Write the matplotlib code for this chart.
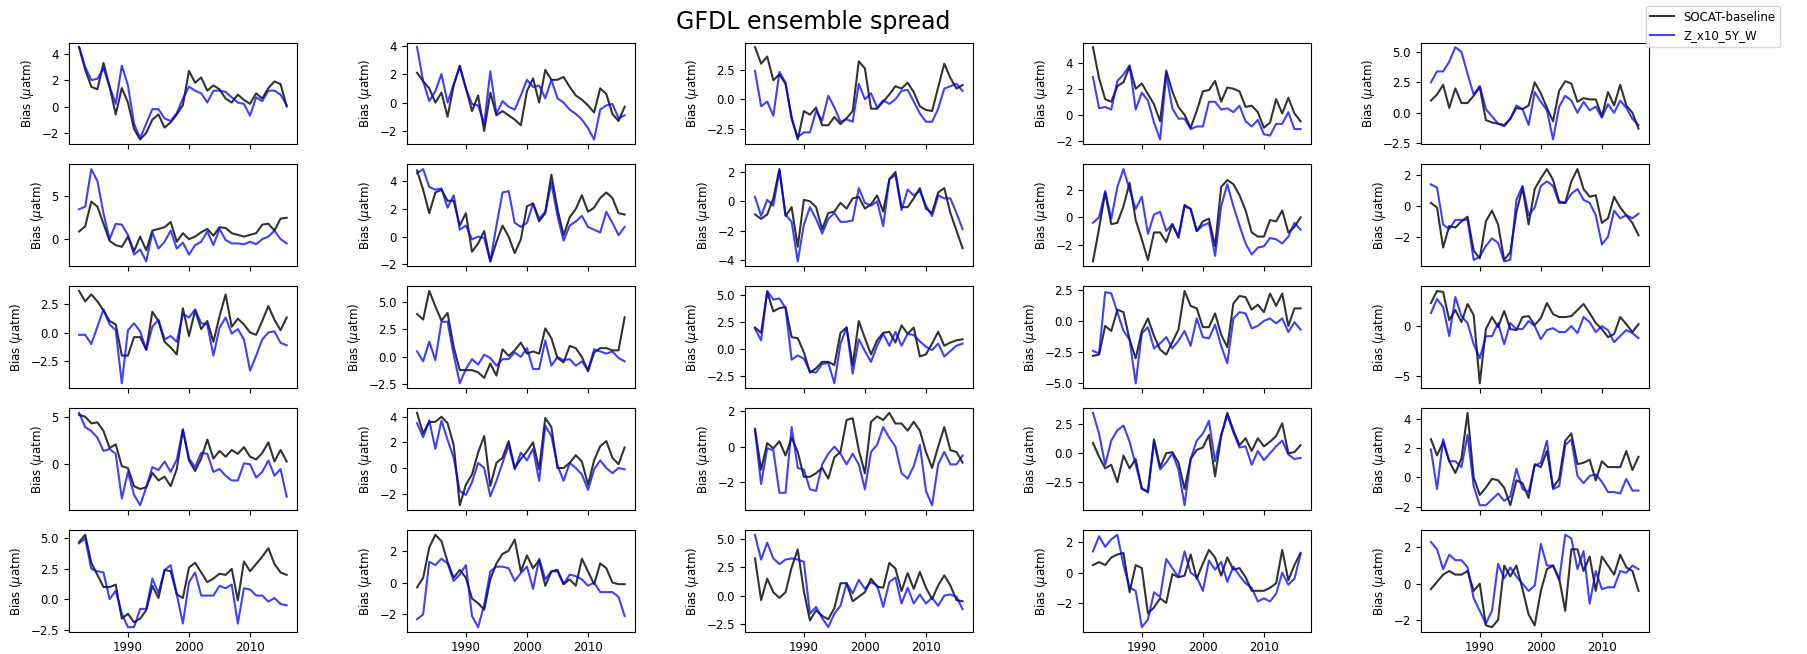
import numpy as np
import matplotlib
matplotlib.use("Agg")
import matplotlib.pyplot as plt

years = list(range(1982, 2017))
title = "GFDL ensemble spread"
label_a = "SOCAT-baseline"
label_b = "Z_x10_5Y_W"
ylabel = r"Bias ($\mu$atm)"
xticks = [1990, 2000, 2010]

s01 = [4.5,2.8,1.5,1.3,3.3,1.5,-0.6,1.4,0.3,-1.7,-2.5,-2.0,-1.0,-0.6,-1.6,-1.2,-0.6,0.1,2.7,1.8,2.2,1.2,1.6,1.3,0.6,0.3,0.9,0.5,0.2,1.0,0.6,1.4,1.9,1.7,0.0]
z01 = [4.5,3.0,2.0,2.1,2.9,1.5,0.2,3.1,1.6,-1.3,-2.4,-1.3,-0.2,-0.2,-0.9,-1.1,-0.5,0.6,1.5,1.2,1.0,0.3,1.2,1.2,1.1,0.7,0.3,0.2,-0.7,0.7,0.4,1.2,1.2,0.9,0.1]
s02 = [2.1,1.5,1.0,0.0,0.7,-1.0,1.2,2.6,1.0,-0.6,0.5,-2.0,0.7,-0.9,-0.6,-0.9,-1.2,-1.6,0.8,1.7,0.0,2.3,1.6,1.6,1.8,1.1,0.5,0.2,-0.2,-0.7,1.0,0.6,-0.8,-1.3,-0.3]
z02 = [3.9,1.5,0.1,0.8,2.0,0.0,1.3,2.5,1.0,-0.1,-0.2,-1.5,2.2,-0.8,0.1,-0.3,-0.5,0.5,1.6,1.1,1.2,0.3,1.6,0.3,0.0,-0.5,-0.8,-1.2,-1.8,-2.6,-0.5,-0.2,-0.1,-1.1,-0.9]
s03 = [4.4,3.0,3.6,1.6,2.1,1.3,-1.5,-3.4,-1.0,-1.3,-0.7,-2.2,-2.2,-1.5,-2.1,-1.6,-1.0,3.2,2.6,-0.8,-0.8,-0.2,0.4,1.1,0.9,1.4,0.6,-0.6,-0.9,-1.0,1.0,3.0,1.8,0.9,1.2]
z03 = [2.4,-0.6,-0.2,-1.4,2.3,1.4,-1.7,-3.2,-2.8,-2.8,-1.0,-1.8,0.3,-0.7,-1.9,-1.7,-1.9,1.3,0.0,0.5,-0.7,-0.1,-0.4,0.0,0.7,0.8,-0.2,-1.2,-1.9,-1.9,-0.8,0.9,1.1,1.3,0.7]
s04 = [5.2,2.8,1.2,1.0,2.2,2.5,3.7,2.0,2.4,1.6,0.8,-0.5,3.4,1.8,0.6,0.0,-1.0,0.3,1.8,1.9,2.6,1.0,2.1,2.0,1.8,0.6,0.7,0.2,-1.0,-0.6,1.2,0.1,1.3,0.1,-0.5]
z04 = [2.9,0.5,0.6,0.4,2.6,3.1,3.8,0.4,1.7,1.1,-0.6,-1.9,3.1,0.5,-0.3,-0.3,-1.1,-0.9,-0.9,1.0,1.0,0.4,0.5,0.2,0.7,-0.5,-0.9,-0.4,-1.5,-1.6,-0.7,-0.7,0.2,-1.1,-1.1]
s05 = [1.0,1.5,2.3,0.4,2.0,0.8,0.8,1.4,2.1,-0.6,-0.8,-0.9,-1.1,-0.5,0.4,0.3,0.6,2.5,1.6,0.4,-0.7,1.8,2.6,2.4,0.9,1.2,1.1,1.1,-0.3,1.7,0.6,2.3,0.6,0.0,-1.3]
z05 = [2.5,3.4,3.4,4.2,5.4,5.0,3.2,1.5,2.2,0.3,-0.3,-0.9,-1.0,-0.5,0.6,0.3,-1.0,1.7,0.9,0.2,-2.2,0.5,1.4,1.0,0.0,0.9,0.2,0.5,-0.4,0.7,0.0,1.0,0.4,-0.5,-1.0]

s06 = [0.9,1.5,4.4,3.8,1.8,-0.2,-0.7,-0.9,0.3,-1.4,0.3,-1.3,1.0,1.2,1.4,2.0,-0.3,0.7,0.0,0.3,0.8,1.2,0.4,1.4,1.3,0.7,0.5,0.3,0.5,0.7,1.7,1.8,1.0,2.4,2.5]
z06 = [3.5,3.8,8.2,6.8,3.0,0.0,1.8,1.7,0.5,-1.8,-1.2,-2.6,0.8,-1.1,-0.3,1.0,-1.1,-0.4,-1.8,-0.7,-0.3,0.9,-0.7,1.2,-0.1,-0.5,-0.5,-0.6,-0.3,-0.6,0.0,0.3,1.0,0.0,-0.5]
s07 = [4.8,3.4,1.7,3.2,3.4,2.6,2.6,0.8,1.7,-1.1,-0.5,0.4,-1.8,-0.4,0.8,0.0,-1.2,-0.2,2.2,2.4,1.1,1.7,4.5,2.0,0.1,1.4,2.0,3.0,1.8,2.1,2.8,3.2,2.8,1.7,1.6]
z07 = [4.6,4.9,3.6,3.4,3.5,2.1,3.0,0.5,0.8,-0.2,0.0,-0.1,-1.8,0.8,3.2,3.3,1.0,0.7,1.0,2.4,1.3,1.8,3.9,1.5,-0.3,0.8,1.1,1.5,0.7,0.5,0.3,1.8,1.0,0.1,0.7]
s08 = [-0.9,-1.2,-0.9,0.2,2.2,-1.0,-0.4,-3.1,0.1,0.0,-0.4,-1.9,-0.8,-0.7,-0.1,-0.5,0.2,0.3,-0.5,-0.2,0.4,-0.7,1.5,2.0,-0.4,-0.4,0.2,0.9,-0.5,-0.8,0.6,0.9,-0.8,-2.0,-3.2]
z08 = [0.3,-1.0,0.1,-0.3,2.1,-0.9,-1.4,-4.1,-1.6,-0.4,-1.2,-2.2,-1.2,-0.8,-1.4,-1.4,-1.3,0.9,-0.1,-0.3,0.0,-1.7,1.5,1.8,-0.6,0.8,0.4,0.7,-0.3,-1.0,0.4,0.2,0.2,-0.8,-1.9]
s09 = [-3.2,-0.8,1.8,-0.5,-0.4,0.8,2.5,-0.2,-1.6,-3.1,-1.1,-1.1,-1.8,-0.5,-1.4,0.9,0.6,-1.0,-0.3,-0.1,-2.1,2.2,2.7,2.4,1.6,0.5,-1.1,-1.4,-1.4,-0.2,-0.3,0.5,-1.1,-0.7,0.0]
z09 = [-0.4,0.0,1.9,-0.1,2.2,3.5,2.0,0.6,1.5,-1.2,0.2,0.4,-1.0,-0.5,-1.5,0.8,0.6,-1.0,-0.6,-0.4,-2.8,0.8,2.4,0.8,-0.6,-1.9,-2.7,-2.2,-2.1,-1.5,-1.6,-1.9,-1.4,-0.4,-0.9]
s10 = [0.2,-0.1,-2.7,-1.3,-1.4,-1.0,-0.7,-2.9,-3.4,-1.0,-0.3,-1.2,-3.5,-3.0,-0.4,1.2,-1.2,1.1,1.8,2.4,1.7,0.3,0.2,1.6,2.4,1.1,0.6,0.7,-1.1,-0.8,0.6,-0.1,-0.6,-1.1,-1.9]
z10 = [1.4,1.2,-1.2,-1.5,-0.9,-0.9,-0.9,-3.5,-3.3,-2.6,-2.1,-2.4,-3.6,-3.5,0.4,1.3,-0.6,-0.1,1.3,1.6,1.3,0.2,0.2,0.8,1.1,0.4,0.2,-0.6,-2.5,-2.0,-0.3,-0.8,-0.6,-0.8,-0.5]

s11 = [3.6,2.7,3.3,2.7,1.9,1.0,0.7,-2.0,-2.0,-0.4,-0.4,-1.5,1.8,1.0,-0.8,-1.3,-1.9,2.1,-0.3,1.9,0.3,1.0,-0.8,1.4,3.3,0.5,1.2,0.7,0.0,-0.2,1.0,2.3,1.1,0.2,1.3]
z11 = [-0.2,-0.2,-1.0,0.5,2.0,0.7,0.2,-4.4,0.2,0.8,0.1,-1.5,0.5,1.1,-0.6,-0.3,-0.8,1.6,1.3,2.0,0.8,0.7,-2.0,0.4,1.3,-0.1,0.3,-0.6,-3.3,-2.0,-0.6,0.0,0.1,-0.9,-1.1]
s12 = [3.9,3.4,6.0,4.6,3.3,4.0,0.9,-1.2,-1.2,-1.2,-1.4,-1.9,-0.6,-1.7,0.7,0.1,0.6,1.3,0.3,0.5,0.3,2.6,1.7,-0.1,-0.5,1.0,0.8,0.0,-1.3,0.4,0.8,0.8,0.6,0.6,3.6]
z12 = [0.5,-0.4,1.4,-0.3,3.2,3.2,0.2,-2.4,-1.1,-0.2,-0.7,0.2,-0.1,-0.8,-0.2,-0.2,0.4,0.0,0.8,-1.1,-1.1,1.5,-0.8,0.0,-0.3,-0.2,-0.8,-0.4,-1.2,0.7,0.5,0.3,0.5,-0.1,-0.4]
s13 = [2.0,1.5,5.3,3.5,3.8,3.9,1.1,1.0,-0.3,-2.2,-1.8,-1.2,-1.2,-1.5,1.5,2.0,-1.5,2.6,1.0,-0.5,0.8,1.5,1.6,0.6,2.2,1.4,2.0,-0.7,-0.5,0.5,1.6,0.3,0.6,0.8,0.9]
z13 = [1.9,0.8,5.4,4.6,4.7,3.8,-1.0,-0.6,-0.9,-2.1,-2.2,-1.4,-1.3,-3.2,0.5,2.0,-2.3,0.9,-0.2,-1.2,0.3,1.4,0.3,1.6,0.3,1.4,1.3,0.7,0.2,-0.1,0.5,-0.7,-0.2,0.3,0.5]
s14 = [-2.8,-2.7,-0.4,-0.8,0.9,0.7,-1.5,-3.0,-0.8,0.2,-1.2,-2.3,-2.7,-1.7,-0.7,2.4,1.2,1.0,-0.5,-0.5,0.6,-1.1,-2.1,1.4,2.0,1.9,0.9,1.3,0.7,2.2,1.2,2.2,-0.4,1.0,1.0]
z14 = [-2.4,-2.6,2.3,2.2,0.7,-0.8,-1.5,-5.0,-1.0,-0.5,-2.2,-1.8,-1.3,-2.2,-1.6,-0.8,-2.0,0.2,-1.3,-1.4,-0.3,-2.0,-3.4,0.2,0.7,0.6,-0.6,-0.4,0.0,0.2,-0.2,0.2,-0.9,-0.1,-0.7]
s15 = [2.3,3.5,3.4,0.6,1.6,0.4,2.2,1.1,-5.7,-0.3,0.9,-0.1,1.5,-0.3,-0.4,0.9,1.0,0.1,0.8,2.3,1.2,0.9,0.9,1.0,1.6,2.2,1.3,0.3,-0.3,-1.1,-0.8,0.9,0.2,-0.6,0.2]
z15 = [1.3,2.7,1.9,-1.0,2.9,1.0,0.3,-1.8,-3.2,-1.0,-1.0,0.3,-1.8,0.3,-0.3,-0.3,0.5,0.0,-1.3,-0.4,-0.2,-0.6,-0.6,0.0,-0.7,0.9,0.4,-0.6,0.0,-0.4,-1.6,-1.0,-0.4,-0.7,-1.2]

s16 = [5.2,5.0,4.3,4.4,3.5,1.7,2.1,-0.2,-0.4,-2.3,-2.6,-2.4,-0.9,-1.7,-1.3,-2.3,-0.5,3.6,0.4,-0.7,0.6,2.6,0.6,1.4,0.8,1.5,1.1,1.8,0.8,0.5,1.2,2.3,0.3,1.5,0.3]
z16 = [5.4,3.9,3.5,2.8,1.4,1.6,1.1,-3.6,-0.8,-3.2,-4.3,-2.4,-0.3,-0.6,0.3,-0.8,0.5,3.7,0.6,-0.3,1.2,1.1,-0.8,-0.5,-1.2,-1.7,-1.7,0.1,0.0,-1.4,-0.8,0.4,-1.2,-0.5,-3.4]
s17 = [4.3,2.7,3.6,3.6,4.0,3.5,1.8,-2.9,-1.3,-0.5,1.2,2.5,-1.4,0.4,0.8,2.1,0.0,0.7,1.3,2.0,-0.1,3.9,3.2,0.0,0.0,0.4,1.0,0.5,-1.3,0.6,1.7,2.1,0.8,0.3,1.6]
z17 = [3.5,2.4,3.7,1.5,3.7,2.2,0.8,-1.8,-2.1,-1.1,0.4,0.0,-2.2,-1.0,0.4,1.8,-0.1,1.2,0.6,1.5,-1.0,3.3,2.5,0.2,-1.0,0.4,0.0,-0.5,-1.7,-0.1,0.6,0.0,-0.4,0.0,-0.1]
s18 = [1.0,-1.3,0.2,-0.1,0.3,-0.5,0.5,-0.3,-1.7,-1.7,-1.5,-1.2,-1.8,-0.6,-0.3,1.5,1.6,-0.2,-1.5,1.4,1.7,1.5,1.9,1.3,1.3,0.9,1.4,0.9,-0.3,-1.2,0.0,1.1,-0.2,-0.3,-0.9]
z18 = [0.9,-2.1,-0.1,-0.2,-2.6,-2.6,1.1,-1.2,-1.3,-2.4,-2.5,-1.0,-0.4,0.0,-0.4,-1.0,-0.4,-1.0,-2.4,-0.3,0.1,1.1,0.5,0.0,-1.5,-1.8,-1.1,0.1,-2.5,-3.3,-1.0,-0.3,-1.0,-1.0,-0.5]
s19 = [0.9,-0.3,-1.3,-1.0,-2.5,-0.2,-1.3,-0.5,-3.1,-3.3,1.2,-1.2,0.0,0.1,-0.8,-3.1,-0.5,0.3,0.5,1.6,-2.0,1.5,3.5,2.0,0.7,1.3,0.2,1.3,0.6,1.0,1.5,2.6,0.0,0.1,0.7]
z19 = [3.5,1.7,-1.0,1.1,2.0,2.4,1.0,-1.0,-3.0,-3.4,1.0,-1.4,-0.8,0.0,-1.4,-4.5,-0.5,1.1,1.7,2.8,-0.7,1.6,3.3,1.8,0.5,0.6,-1.0,0.2,-0.6,0.0,0.6,1.1,-0.1,-0.5,-0.4]
s20 = [2.6,1.5,2.4,1.1,0.3,1.3,4.4,0.0,-1.2,-0.7,-0.1,-0.2,-0.7,-1.9,-0.2,-0.4,-1.4,0.9,0.7,1.8,-0.7,-0.1,2.5,3.0,0.9,1.0,1.2,-0.2,1.1,0.7,0.7,0.7,1.8,0.5,1.4]
z20 = [1.9,-0.8,2.6,1.1,1.1,0.7,2.9,-0.6,-1.9,-1.9,-1.5,-1.1,-1.6,-1.3,0.6,-0.8,-1.0,0.8,1.0,2.5,-0.8,-0.6,2.2,2.6,0.1,-0.4,0.1,0.2,-0.3,-1.0,-1.0,-1.1,-0.1,-0.9,-0.9]

s21 = [4.7,5.3,3.0,2.0,1.0,1.0,1.2,-1.6,-1.2,-1.9,-1.6,-0.9,1.1,0.1,2.4,2.3,0.4,0.1,2.6,3.0,2.2,1.4,1.7,2.1,2.0,2.5,-0.1,3.1,2.3,2.9,3.5,4.2,2.9,2.2,2.0]
z21 = [4.6,5.0,2.5,2.3,2.2,0.0,0.7,-1.2,-2.3,-2.3,-0.8,-0.8,1.7,0.5,2.4,2.8,0.4,-2.0,1.4,2.2,0.3,0.3,0.3,1.1,0.9,1.2,-2.0,0.9,0.8,0.3,0.3,-0.2,0.1,-0.4,-0.5]
s22 = [-0.3,0.3,2.2,3.0,2.6,1.3,0.3,0.8,0.3,-1.0,-1.3,-1.7,0.2,1.2,1.8,2.0,2.7,0.7,1.7,0.9,1.4,-0.2,0.7,0.8,-0.1,0.2,-0.2,1.5,0.7,-0.1,1.2,0.9,0.0,-0.1,-0.1]
z22 = [-2.3,-2.0,1.3,1.1,1.5,1.2,0.1,0.5,1.1,-2.1,-2.8,-1.4,0.7,1.0,1.0,0.9,0.1,0.6,1.0,-0.4,1.5,0.2,0.7,0.7,-0.1,0.5,0.4,0.2,-0.2,0.0,-0.6,-0.6,-0.6,-0.9,-2.1]
s23 = [3.3,-0.4,1.5,0.3,-0.2,0.3,2.5,4.1,0.4,-2.2,-1.3,-1.8,-2.1,-1.1,1.1,1.1,-0.5,-0.1,0.3,1.5,0.8,0.7,2.9,2.4,0.4,2.0,0.6,2.1,0.7,-0.3,0.9,1.8,0.9,-0.4,-0.5]
z23 = [5.4,3.2,4.7,3.3,2.8,3.2,3.3,3.2,3.0,-1.6,-1.0,-2.0,-2.8,-1.6,-0.9,1.1,0.2,1.4,0.6,1.2,0.9,-1.0,1.2,1.6,-0.7,0.7,-0.7,0.1,-0.7,-0.2,-0.9,0.0,0.1,-0.1,-1.2]
s24 = [0.5,0.7,0.5,1.0,1.2,1.3,-1.3,0.5,0.3,-2.7,-2.3,-1.7,-2.0,-0.1,-0.3,-0.2,1.2,-0.4,0.6,1.5,1.0,-0.2,1.0,0.2,0.3,-0.3,-1.2,-1.2,-1.2,-1.0,-0.7,1.5,-0.5,0.5,1.3]
z24 = [1.4,2.4,1.7,2.2,2.5,0.5,-1.0,-1.2,-3.6,-3.1,-1.3,-1.6,0.9,0.3,-0.3,1.4,0.0,-0.3,-1.2,0.8,0.2,0.7,-0.6,0.4,-0.2,-0.7,-1.0,-1.9,-1.7,-1.9,-1.4,0.0,-0.8,-0.4,1.2]
s25 = [-0.3,0.1,0.5,0.7,0.5,0.5,0.7,-0.4,0.0,-2.3,-2.4,-2.0,1.0,0.4,1.0,-0.3,-1.7,-2.3,-0.4,0.8,1.0,0.3,-1.5,1.9,1.9,0.7,1.5,-0.4,1.5,1.0,0.5,1.6,0.9,0.7,-0.4]
z25 = [2.3,1.9,0.8,1.6,1.3,1.3,0.9,-0.8,-1.5,-2.2,-1.5,1.1,0.3,0.9,0.4,0.0,-0.4,-0.1,2.2,1.0,1.0,0.2,2.7,2.5,0.8,1.8,-1.1,0.7,-0.3,-0.2,-0.2,0.7,0.6,1.0,0.8]

socat = [s01, s02, s03, s04, s05, s06, s07, s08, s09, s10,
         s11, s12, s13, s14, s15, s16, s17, s18, s19, s20,
         s21, s22, s23, s24, s25]
zx10 = [z01, z02, z03, z04, z05, z06, z07, z08, z09, z10,
        z11, z12, z13, z14, z15, z16, z17, z18, z19, z20,
        z21, z22, z23, z24, z25]

fig, axes = plt.subplots(5, 5, figsize=(18.08, 6.54), dpi=100, sharex=True)
fig.subplots_adjust(left=0.038, right=0.912, top=0.935, bottom=0.034,
                    wspace=0.48, hspace=0.20)

for i, ax in enumerate(axes.flat):
    la, = ax.plot(years, socat[i], color="black", alpha=0.8, lw=1.5)
    lb, = ax.plot(years, zx10[i], color="blue", alpha=0.75, lw=1.5)
    ax.set_ylabel(ylabel, fontsize=8.5)
    ax.tick_params(labelsize=8.5)
    ax.set_xticks(xticks)

fig.suptitle(title, x=0.45, y=0.985, fontsize=17)
fig.legend([la, lb], [label_a, label_b], loc="upper right",
           bbox_to_anchor=(0.988, 1.0), fontsize=8.5)

fig.savefig("out.png", dpi=100)
